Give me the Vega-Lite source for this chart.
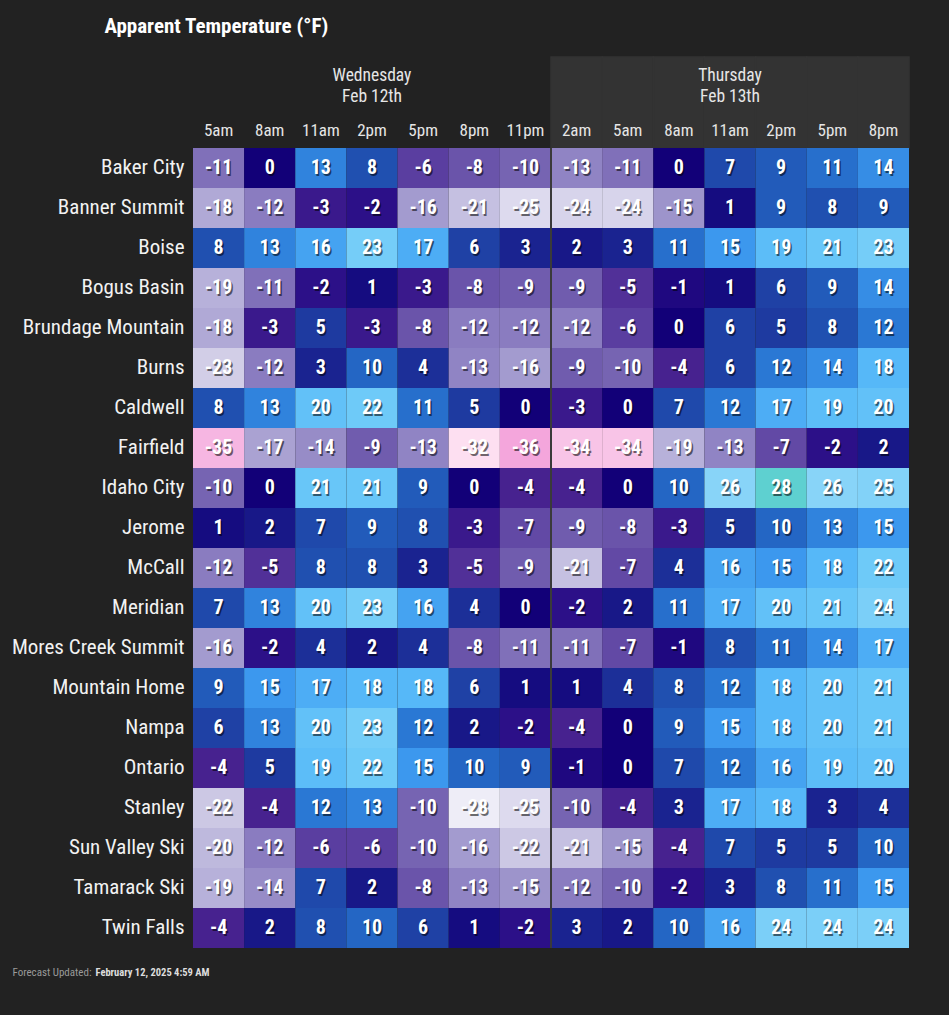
{
 "$schema": "https://vega.github.io/schema/vega-lite/v6.json",
 "background": "#222222",
 "padding": {"left": 11, "top": 16, "right": 41, "bottom": 37},
 "title": {"text": "Apparent Temperature (°F)", "anchor": "start", "dx": 93, "font": "Roboto Condensed, Open Sans Condensed, DejaVu Sans Condensed, Liberation Sans Narrow, sans-serif", "fontSize": 21, "fontWeight": "bold", "color": "#ffffff", "offset": 19},
 "bounds": "flush",
 "spacing": 0,
 "config": {"view": {"stroke": null}, "font": "Roboto Condensed, Open Sans Condensed, DejaVu Sans Condensed, Liberation Sans Narrow, sans-serif"},
 "vconcat": [
  {
   "width": 716, "height": 91,
   "data": {"values": [
    {"time":"Wed 5am","day":"Wednesday","row":"hour","label":"5am"},
    {"time":"Wed 8am","day":"Wednesday","row":"hour","label":"8am"},
    {"time":"Wed 11am","day":"Wednesday","row":"hour","label":"11am"},
    {"time":"Wed 2pm","day":"Wednesday","row":"hour","label":"2pm"},
    {"time":"Wed 5pm","day":"Wednesday","row":"hour","label":"5pm"},
    {"time":"Wed 8pm","day":"Wednesday","row":"hour","label":"8pm"},
    {"time":"Wed 11pm","day":"Wednesday","row":"hour","label":"11pm"},
    {"time":"Thu 2am","day":"Thursday","row":"hour","label":"2am"},
    {"time":"Thu 5am","day":"Thursday","row":"hour","label":"5am"},
    {"time":"Thu 8am","day":"Thursday","row":"hour","label":"8am"},
    {"time":"Thu 11am","day":"Thursday","row":"hour","label":"11am"},
    {"time":"Thu 2pm","day":"Thursday","row":"hour","label":"2pm"},
    {"time":"Thu 5pm","day":"Thursday","row":"hour","label":"5pm"},
    {"time":"Thu 8pm","day":"Thursday","row":"hour","label":"8pm"},
    {"time":"Wed 2pm","day":"Wednesday","row":"day","label":"Wednesday\nFeb 12th"},
    {"time":"Thu 11am","day":"Thursday","row":"day","label":"Thursday\nFeb 13th"}
   ]},
   "layer": [
    {"transform": [{"filter": "datum.day == 'Thursday' && datum.row == 'hour'"}],
     "mark": {"type": "rect", "color": "#333333", "stroke": "#333333", "strokeWidth": 1.5},
     "encoding": {"x": {"field": "time", "type": "nominal", "scale": {"domain": ["Wed 5am","Wed 8am","Wed 11am","Wed 2pm","Wed 5pm","Wed 8pm","Wed 11pm","Thu 2am","Thu 5am","Thu 8am","Thu 11am","Thu 2pm","Thu 5pm","Thu 8pm"], "paddingInner": 0, "paddingOuter": 0}, "axis": null}}},
    {"transform": [{"filter": "datum.row == 'day'"}],
     "mark": {"type": "text", "color": "#e6e6e6", "fontSize": 17.5, "lineHeight": 21, "lineBreak": "\n", "baseline": "middle", "dy": -4},
     "encoding": {
      "x": {"field": "time", "type": "nominal", "axis": null},
      "y": {"field": "row", "type": "nominal", "scale": {"domain": ["day","hour"], "paddingInner": 0, "paddingOuter": 0}, "axis": null},
      "text": {"field": "label", "type": "nominal"}}},
    {"transform": [{"filter": "datum.row == 'hour'"}],
     "mark": {"type": "text", "color": "#e6e6e6", "fontSize": 17, "baseline": "middle", "dy": 6},
     "encoding": {
      "x": {"field": "time", "type": "nominal", "axis": null},
      "y": {"field": "row", "type": "nominal", "axis": null},
      "text": {"field": "label", "type": "nominal"}}}
   ]
  },
  {
   "width": 716, "height": 800,
   "data": {"values": [
    {"station":"Baker City","time":"Wed 5am","temp":-11},{"station":"Baker City","time":"Wed 8am","temp":0},{"station":"Baker City","time":"Wed 11am","temp":13},{"station":"Baker City","time":"Wed 2pm","temp":8},{"station":"Baker City","time":"Wed 5pm","temp":-6},{"station":"Baker City","time":"Wed 8pm","temp":-8},{"station":"Baker City","time":"Wed 11pm","temp":-10},{"station":"Baker City","time":"Thu 2am","temp":-13},{"station":"Baker City","time":"Thu 5am","temp":-11},{"station":"Baker City","time":"Thu 8am","temp":0},{"station":"Baker City","time":"Thu 11am","temp":7},{"station":"Baker City","time":"Thu 2pm","temp":9},{"station":"Baker City","time":"Thu 5pm","temp":11},{"station":"Baker City","time":"Thu 8pm","temp":14},
    {"station":"Banner Summit","time":"Wed 5am","temp":-18},{"station":"Banner Summit","time":"Wed 8am","temp":-12},{"station":"Banner Summit","time":"Wed 11am","temp":-3},{"station":"Banner Summit","time":"Wed 2pm","temp":-2},{"station":"Banner Summit","time":"Wed 5pm","temp":-16},{"station":"Banner Summit","time":"Wed 8pm","temp":-21},{"station":"Banner Summit","time":"Wed 11pm","temp":-25},{"station":"Banner Summit","time":"Thu 2am","temp":-24},{"station":"Banner Summit","time":"Thu 5am","temp":-24},{"station":"Banner Summit","time":"Thu 8am","temp":-15},{"station":"Banner Summit","time":"Thu 11am","temp":1},{"station":"Banner Summit","time":"Thu 2pm","temp":9},{"station":"Banner Summit","time":"Thu 5pm","temp":8},{"station":"Banner Summit","time":"Thu 8pm","temp":9},
    {"station":"Boise","time":"Wed 5am","temp":8},{"station":"Boise","time":"Wed 8am","temp":13},{"station":"Boise","time":"Wed 11am","temp":16},{"station":"Boise","time":"Wed 2pm","temp":23},{"station":"Boise","time":"Wed 5pm","temp":17},{"station":"Boise","time":"Wed 8pm","temp":6},{"station":"Boise","time":"Wed 11pm","temp":3},{"station":"Boise","time":"Thu 2am","temp":2},{"station":"Boise","time":"Thu 5am","temp":3},{"station":"Boise","time":"Thu 8am","temp":11},{"station":"Boise","time":"Thu 11am","temp":15},{"station":"Boise","time":"Thu 2pm","temp":19},{"station":"Boise","time":"Thu 5pm","temp":21},{"station":"Boise","time":"Thu 8pm","temp":23},
    {"station":"Bogus Basin","time":"Wed 5am","temp":-19},{"station":"Bogus Basin","time":"Wed 8am","temp":-11},{"station":"Bogus Basin","time":"Wed 11am","temp":-2},{"station":"Bogus Basin","time":"Wed 2pm","temp":1},{"station":"Bogus Basin","time":"Wed 5pm","temp":-3},{"station":"Bogus Basin","time":"Wed 8pm","temp":-8},{"station":"Bogus Basin","time":"Wed 11pm","temp":-9},{"station":"Bogus Basin","time":"Thu 2am","temp":-9},{"station":"Bogus Basin","time":"Thu 5am","temp":-5},{"station":"Bogus Basin","time":"Thu 8am","temp":-1},{"station":"Bogus Basin","time":"Thu 11am","temp":1},{"station":"Bogus Basin","time":"Thu 2pm","temp":6},{"station":"Bogus Basin","time":"Thu 5pm","temp":9},{"station":"Bogus Basin","time":"Thu 8pm","temp":14},
    {"station":"Brundage Mountain","time":"Wed 5am","temp":-18},{"station":"Brundage Mountain","time":"Wed 8am","temp":-3},{"station":"Brundage Mountain","time":"Wed 11am","temp":5},{"station":"Brundage Mountain","time":"Wed 2pm","temp":-3},{"station":"Brundage Mountain","time":"Wed 5pm","temp":-8},{"station":"Brundage Mountain","time":"Wed 8pm","temp":-12},{"station":"Brundage Mountain","time":"Wed 11pm","temp":-12},{"station":"Brundage Mountain","time":"Thu 2am","temp":-12},{"station":"Brundage Mountain","time":"Thu 5am","temp":-6},{"station":"Brundage Mountain","time":"Thu 8am","temp":0},{"station":"Brundage Mountain","time":"Thu 11am","temp":6},{"station":"Brundage Mountain","time":"Thu 2pm","temp":5},{"station":"Brundage Mountain","time":"Thu 5pm","temp":8},{"station":"Brundage Mountain","time":"Thu 8pm","temp":12},
    {"station":"Burns","time":"Wed 5am","temp":-23},{"station":"Burns","time":"Wed 8am","temp":-12},{"station":"Burns","time":"Wed 11am","temp":3},{"station":"Burns","time":"Wed 2pm","temp":10},{"station":"Burns","time":"Wed 5pm","temp":4},{"station":"Burns","time":"Wed 8pm","temp":-13},{"station":"Burns","time":"Wed 11pm","temp":-16},{"station":"Burns","time":"Thu 2am","temp":-9},{"station":"Burns","time":"Thu 5am","temp":-10},{"station":"Burns","time":"Thu 8am","temp":-4},{"station":"Burns","time":"Thu 11am","temp":6},{"station":"Burns","time":"Thu 2pm","temp":12},{"station":"Burns","time":"Thu 5pm","temp":14},{"station":"Burns","time":"Thu 8pm","temp":18},
    {"station":"Caldwell","time":"Wed 5am","temp":8},{"station":"Caldwell","time":"Wed 8am","temp":13},{"station":"Caldwell","time":"Wed 11am","temp":20},{"station":"Caldwell","time":"Wed 2pm","temp":22},{"station":"Caldwell","time":"Wed 5pm","temp":11},{"station":"Caldwell","time":"Wed 8pm","temp":5},{"station":"Caldwell","time":"Wed 11pm","temp":0},{"station":"Caldwell","time":"Thu 2am","temp":-3},{"station":"Caldwell","time":"Thu 5am","temp":0},{"station":"Caldwell","time":"Thu 8am","temp":7},{"station":"Caldwell","time":"Thu 11am","temp":12},{"station":"Caldwell","time":"Thu 2pm","temp":17},{"station":"Caldwell","time":"Thu 5pm","temp":19},{"station":"Caldwell","time":"Thu 8pm","temp":20},
    {"station":"Fairfield","time":"Wed 5am","temp":-35},{"station":"Fairfield","time":"Wed 8am","temp":-17},{"station":"Fairfield","time":"Wed 11am","temp":-14},{"station":"Fairfield","time":"Wed 2pm","temp":-9},{"station":"Fairfield","time":"Wed 5pm","temp":-13},{"station":"Fairfield","time":"Wed 8pm","temp":-32},{"station":"Fairfield","time":"Wed 11pm","temp":-36},{"station":"Fairfield","time":"Thu 2am","temp":-34},{"station":"Fairfield","time":"Thu 5am","temp":-34},{"station":"Fairfield","time":"Thu 8am","temp":-19},{"station":"Fairfield","time":"Thu 11am","temp":-13},{"station":"Fairfield","time":"Thu 2pm","temp":-7},{"station":"Fairfield","time":"Thu 5pm","temp":-2},{"station":"Fairfield","time":"Thu 8pm","temp":2},
    {"station":"Idaho City","time":"Wed 5am","temp":-10},{"station":"Idaho City","time":"Wed 8am","temp":0},{"station":"Idaho City","time":"Wed 11am","temp":21},{"station":"Idaho City","time":"Wed 2pm","temp":21},{"station":"Idaho City","time":"Wed 5pm","temp":9},{"station":"Idaho City","time":"Wed 8pm","temp":0},{"station":"Idaho City","time":"Wed 11pm","temp":-4},{"station":"Idaho City","time":"Thu 2am","temp":-4},{"station":"Idaho City","time":"Thu 5am","temp":0},{"station":"Idaho City","time":"Thu 8am","temp":10},{"station":"Idaho City","time":"Thu 11am","temp":26},{"station":"Idaho City","time":"Thu 2pm","temp":28},{"station":"Idaho City","time":"Thu 5pm","temp":26},{"station":"Idaho City","time":"Thu 8pm","temp":25},
    {"station":"Jerome","time":"Wed 5am","temp":1},{"station":"Jerome","time":"Wed 8am","temp":2},{"station":"Jerome","time":"Wed 11am","temp":7},{"station":"Jerome","time":"Wed 2pm","temp":9},{"station":"Jerome","time":"Wed 5pm","temp":8},{"station":"Jerome","time":"Wed 8pm","temp":-3},{"station":"Jerome","time":"Wed 11pm","temp":-7},{"station":"Jerome","time":"Thu 2am","temp":-9},{"station":"Jerome","time":"Thu 5am","temp":-8},{"station":"Jerome","time":"Thu 8am","temp":-3},{"station":"Jerome","time":"Thu 11am","temp":5},{"station":"Jerome","time":"Thu 2pm","temp":10},{"station":"Jerome","time":"Thu 5pm","temp":13},{"station":"Jerome","time":"Thu 8pm","temp":15},
    {"station":"McCall","time":"Wed 5am","temp":-12},{"station":"McCall","time":"Wed 8am","temp":-5},{"station":"McCall","time":"Wed 11am","temp":8},{"station":"McCall","time":"Wed 2pm","temp":8},{"station":"McCall","time":"Wed 5pm","temp":3},{"station":"McCall","time":"Wed 8pm","temp":-5},{"station":"McCall","time":"Wed 11pm","temp":-9},{"station":"McCall","time":"Thu 2am","temp":-21},{"station":"McCall","time":"Thu 5am","temp":-7},{"station":"McCall","time":"Thu 8am","temp":4},{"station":"McCall","time":"Thu 11am","temp":16},{"station":"McCall","time":"Thu 2pm","temp":15},{"station":"McCall","time":"Thu 5pm","temp":18},{"station":"McCall","time":"Thu 8pm","temp":22},
    {"station":"Meridian","time":"Wed 5am","temp":7},{"station":"Meridian","time":"Wed 8am","temp":13},{"station":"Meridian","time":"Wed 11am","temp":20},{"station":"Meridian","time":"Wed 2pm","temp":23},{"station":"Meridian","time":"Wed 5pm","temp":16},{"station":"Meridian","time":"Wed 8pm","temp":4},{"station":"Meridian","time":"Wed 11pm","temp":0},{"station":"Meridian","time":"Thu 2am","temp":-2},{"station":"Meridian","time":"Thu 5am","temp":2},{"station":"Meridian","time":"Thu 8am","temp":11},{"station":"Meridian","time":"Thu 11am","temp":17},{"station":"Meridian","time":"Thu 2pm","temp":20},{"station":"Meridian","time":"Thu 5pm","temp":21},{"station":"Meridian","time":"Thu 8pm","temp":24},
    {"station":"Mores Creek Summit","time":"Wed 5am","temp":-16},{"station":"Mores Creek Summit","time":"Wed 8am","temp":-2},{"station":"Mores Creek Summit","time":"Wed 11am","temp":4},{"station":"Mores Creek Summit","time":"Wed 2pm","temp":2},{"station":"Mores Creek Summit","time":"Wed 5pm","temp":4},{"station":"Mores Creek Summit","time":"Wed 8pm","temp":-8},{"station":"Mores Creek Summit","time":"Wed 11pm","temp":-11},{"station":"Mores Creek Summit","time":"Thu 2am","temp":-11},{"station":"Mores Creek Summit","time":"Thu 5am","temp":-7},{"station":"Mores Creek Summit","time":"Thu 8am","temp":-1},{"station":"Mores Creek Summit","time":"Thu 11am","temp":8},{"station":"Mores Creek Summit","time":"Thu 2pm","temp":11},{"station":"Mores Creek Summit","time":"Thu 5pm","temp":14},{"station":"Mores Creek Summit","time":"Thu 8pm","temp":17},
    {"station":"Mountain Home","time":"Wed 5am","temp":9},{"station":"Mountain Home","time":"Wed 8am","temp":15},{"station":"Mountain Home","time":"Wed 11am","temp":17},{"station":"Mountain Home","time":"Wed 2pm","temp":18},{"station":"Mountain Home","time":"Wed 5pm","temp":18},{"station":"Mountain Home","time":"Wed 8pm","temp":6},{"station":"Mountain Home","time":"Wed 11pm","temp":1},{"station":"Mountain Home","time":"Thu 2am","temp":1},{"station":"Mountain Home","time":"Thu 5am","temp":4},{"station":"Mountain Home","time":"Thu 8am","temp":8},{"station":"Mountain Home","time":"Thu 11am","temp":12},{"station":"Mountain Home","time":"Thu 2pm","temp":18},{"station":"Mountain Home","time":"Thu 5pm","temp":20},{"station":"Mountain Home","time":"Thu 8pm","temp":21},
    {"station":"Nampa","time":"Wed 5am","temp":6},{"station":"Nampa","time":"Wed 8am","temp":13},{"station":"Nampa","time":"Wed 11am","temp":20},{"station":"Nampa","time":"Wed 2pm","temp":23},{"station":"Nampa","time":"Wed 5pm","temp":12},{"station":"Nampa","time":"Wed 8pm","temp":2},{"station":"Nampa","time":"Wed 11pm","temp":-2},{"station":"Nampa","time":"Thu 2am","temp":-4},{"station":"Nampa","time":"Thu 5am","temp":0},{"station":"Nampa","time":"Thu 8am","temp":9},{"station":"Nampa","time":"Thu 11am","temp":15},{"station":"Nampa","time":"Thu 2pm","temp":18},{"station":"Nampa","time":"Thu 5pm","temp":20},{"station":"Nampa","time":"Thu 8pm","temp":21},
    {"station":"Ontario","time":"Wed 5am","temp":-4},{"station":"Ontario","time":"Wed 8am","temp":5},{"station":"Ontario","time":"Wed 11am","temp":19},{"station":"Ontario","time":"Wed 2pm","temp":22},{"station":"Ontario","time":"Wed 5pm","temp":15},{"station":"Ontario","time":"Wed 8pm","temp":10},{"station":"Ontario","time":"Wed 11pm","temp":9},{"station":"Ontario","time":"Thu 2am","temp":-1},{"station":"Ontario","time":"Thu 5am","temp":0},{"station":"Ontario","time":"Thu 8am","temp":7},{"station":"Ontario","time":"Thu 11am","temp":12},{"station":"Ontario","time":"Thu 2pm","temp":16},{"station":"Ontario","time":"Thu 5pm","temp":19},{"station":"Ontario","time":"Thu 8pm","temp":20},
    {"station":"Stanley","time":"Wed 5am","temp":-22},{"station":"Stanley","time":"Wed 8am","temp":-4},{"station":"Stanley","time":"Wed 11am","temp":12},{"station":"Stanley","time":"Wed 2pm","temp":13},{"station":"Stanley","time":"Wed 5pm","temp":-10},{"station":"Stanley","time":"Wed 8pm","temp":-28},{"station":"Stanley","time":"Wed 11pm","temp":-25},{"station":"Stanley","time":"Thu 2am","temp":-10},{"station":"Stanley","time":"Thu 5am","temp":-4},{"station":"Stanley","time":"Thu 8am","temp":3},{"station":"Stanley","time":"Thu 11am","temp":17},{"station":"Stanley","time":"Thu 2pm","temp":18},{"station":"Stanley","time":"Thu 5pm","temp":3},{"station":"Stanley","time":"Thu 8pm","temp":4},
    {"station":"Sun Valley Ski","time":"Wed 5am","temp":-20},{"station":"Sun Valley Ski","time":"Wed 8am","temp":-12},{"station":"Sun Valley Ski","time":"Wed 11am","temp":-6},{"station":"Sun Valley Ski","time":"Wed 2pm","temp":-6},{"station":"Sun Valley Ski","time":"Wed 5pm","temp":-10},{"station":"Sun Valley Ski","time":"Wed 8pm","temp":-16},{"station":"Sun Valley Ski","time":"Wed 11pm","temp":-22},{"station":"Sun Valley Ski","time":"Thu 2am","temp":-21},{"station":"Sun Valley Ski","time":"Thu 5am","temp":-15},{"station":"Sun Valley Ski","time":"Thu 8am","temp":-4},{"station":"Sun Valley Ski","time":"Thu 11am","temp":7},{"station":"Sun Valley Ski","time":"Thu 2pm","temp":5},{"station":"Sun Valley Ski","time":"Thu 5pm","temp":5},{"station":"Sun Valley Ski","time":"Thu 8pm","temp":10},
    {"station":"Tamarack Ski","time":"Wed 5am","temp":-19},{"station":"Tamarack Ski","time":"Wed 8am","temp":-14},{"station":"Tamarack Ski","time":"Wed 11am","temp":7},{"station":"Tamarack Ski","time":"Wed 2pm","temp":2},{"station":"Tamarack Ski","time":"Wed 5pm","temp":-8},{"station":"Tamarack Ski","time":"Wed 8pm","temp":-13},{"station":"Tamarack Ski","time":"Wed 11pm","temp":-15},{"station":"Tamarack Ski","time":"Thu 2am","temp":-12},{"station":"Tamarack Ski","time":"Thu 5am","temp":-10},{"station":"Tamarack Ski","time":"Thu 8am","temp":-2},{"station":"Tamarack Ski","time":"Thu 11am","temp":3},{"station":"Tamarack Ski","time":"Thu 2pm","temp":8},{"station":"Tamarack Ski","time":"Thu 5pm","temp":11},{"station":"Tamarack Ski","time":"Thu 8pm","temp":15},
    {"station":"Twin Falls","time":"Wed 5am","temp":-4},{"station":"Twin Falls","time":"Wed 8am","temp":2},{"station":"Twin Falls","time":"Wed 11am","temp":8},{"station":"Twin Falls","time":"Wed 2pm","temp":10},{"station":"Twin Falls","time":"Wed 5pm","temp":6},{"station":"Twin Falls","time":"Wed 8pm","temp":1},{"station":"Twin Falls","time":"Wed 11pm","temp":-2},{"station":"Twin Falls","time":"Thu 2am","temp":3},{"station":"Twin Falls","time":"Thu 5am","temp":2},{"station":"Twin Falls","time":"Thu 8am","temp":10},{"station":"Twin Falls","time":"Thu 11am","temp":16},{"station":"Twin Falls","time":"Thu 2pm","temp":24},{"station":"Twin Falls","time":"Thu 5pm","temp":24},{"station":"Twin Falls","time":"Thu 8pm","temp":24}
   ]},
   "layer": [
    {"mark": {"type": "rect"},
     "encoding": {
      "x": {"field": "time", "type": "nominal", "scale": {"domain": ["Wed 5am","Wed 8am","Wed 11am","Wed 2pm","Wed 5pm","Wed 8pm","Wed 11pm","Thu 2am","Thu 5am","Thu 8am","Thu 11am","Thu 2pm","Thu 5pm","Thu 8pm"], "paddingInner": 0, "paddingOuter": 0},
            "axis": {"orient": "bottom", "labels": false, "ticks": false, "domain": false, "grid": false, "title": "Forecast Updated:", "titleFontSize": 11, "titleFontWeight": "normal", "titleColor": "#9a9a9a", "titleX": -181, "titleY": 27, "titleAlign": "left", "titleBaseline": "alphabetic"}},
      "y": {"field": "station", "type": "nominal", "scale": {"domain": ["Baker City","Banner Summit","Boise","Bogus Basin","Brundage Mountain","Burns","Caldwell","Fairfield","Idaho City","Jerome","McCall","Meridian","Mores Creek Summit","Mountain Home","Nampa","Ontario","Stanley","Sun Valley Ski","Tamarack Ski","Twin Falls"], "paddingInner": 0, "paddingOuter": 0},
            "axis": {"title": "February 12, 2025 4:59 AM", "titleAngle": 0, "titleX": -98, "titleY": 827, "titleAlign": "left", "titleBaseline": "alphabetic", "titleFontSize": 10.5, "titleFontWeight": "bold", "titleColor": "#dddddd", "labelFontSize": 21, "labelColor": "#f2f2f2", "labelPadding": 9, "ticks": false, "domain": false, "grid": false, "minExtent": 181, "maxExtent": 181, "labelLimit": 260}},
      "color": {"field": "temp", "type": "quantitative", "legend": null,
        "scale": {"type": "linear", "interpolate": "rgb",
          "domain": [-36,-35,-32,-28,-25,-22,-18,-15,-12,-10,-8,-6,-4,-2,0,2,5,8,10,12,15,18,22,26,28],
          "range": ["#f4a6dc","#f6b6e2","#fddff1","#eeedf7","#dddaee","#ccc8e4","#b0a9d6","#9d94cb","#8a7cc0","#7664b2","#6a54aa","#5a3ea0","#47228f","#2c1088","#120078","#181888","#1e3aa0","#2050b0","#2466c4","#2a78d4","#3c98ee","#56b8f8","#6ecaf8","#88d4f8","#5ed0d0"]}}
     }},
    {"mark": {"type": "text", "color": "#000000", "opacity": 0.55, "fontSize": 20, "fontWeight": "bold", "dx": 1.5, "dy": 1.5, "baseline": "middle"},
     "encoding": {"x": {"field": "time", "type": "nominal"}, "y": {"field": "station", "type": "nominal"}, "text": {"field": "temp", "type": "nominal"}}},
    {"mark": {"type": "text", "color": "#ffffff", "fontSize": 20, "fontWeight": "bold", "baseline": "middle"},
     "encoding": {"x": {"field": "time", "type": "nominal"}, "y": {"field": "station", "type": "nominal"}, "text": {"field": "temp", "type": "nominal"}}},
    {"mark": {"type": "rule", "color": "#3a3a3a", "strokeWidth": 2},
     "encoding": {"x": {"datum": "Thu 2am", "type": "nominal", "bandPosition": 0}}}
   ]
  }
 ]
}
